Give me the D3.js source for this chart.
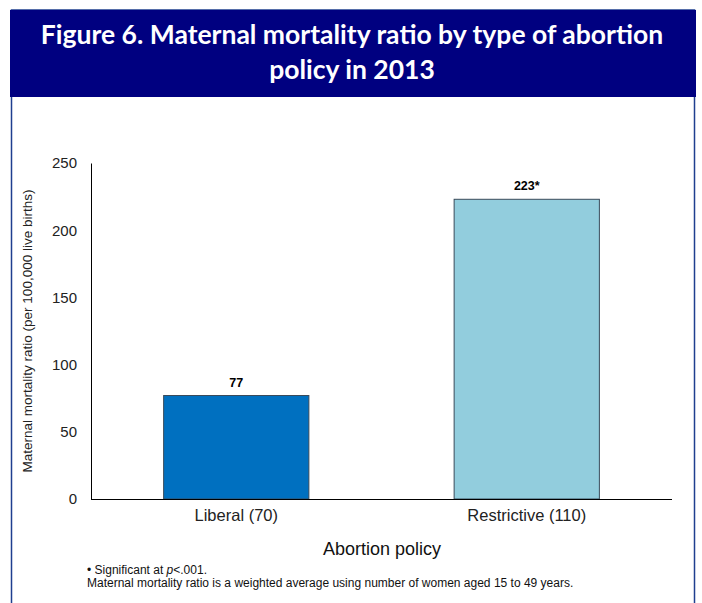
<!DOCTYPE html>
<html><head><meta charset="utf-8">
<script src="https://cdn.jsdelivr.net/npm/d3@7"></script>
<style>body{margin:0;background:#fff}</style>
</head><body>
<svg id="c" width="702" height="603"></svg>
<script>
const categories = ["Liberal (70)", "Restrictive (110)"];
const values = [77, 223];
const valueLabels = ["77", "223*"];
const yTicks = [0, 50, 100, 150, 200, 250];
const colors = ["#0070C0", "#92CDDD"];
const titleLines = ["Figure 6. Maternal mortality ratio by type of abortion", "policy in 2013"];

const svg = d3.select("#c");
// panel
svg.append("rect").attr("x",11.5).attr("y",10).attr("width",683).attr("height",600)
  .attr("fill","#fff").attr("stroke","#1F3F8F").attr("stroke-width",1.5);
svg.append("rect").attr("x",10).attr("y",10).attr("width",686).attr("height",87).attr("fill","#000080");
svg.append("text").attr("x",352).attr("y",44).attr("text-anchor","middle")
  .attr("font-family","Lato").attr("font-weight","bold").attr("font-size",26.5).attr("fill","#fff")
  .selectAll("tspan").data(titleLines).join("tspan").attr("x",352).attr("dy",(d,i)=>i?35:0).text(d=>d);

const x = d3.scaleBand().domain(categories).range([91,672]).paddingInner(0.5).paddingOuter(0.25);
const y = d3.scaleLinear().domain([0,250]).range([499,163]);

const g = svg.append("g");
g.selectAll("rect.bar").data(values).join("rect").attr("class","bar")
  .attr("x",(d,i)=>x(categories[i])).attr("width",x.bandwidth())
  .attr("y",d=>y(d)).attr("height",d=>y(0)-y(d))
  .attr("fill",(d,i)=>colors[i]).attr("stroke","#3A4A5A").attr("stroke-width",1);
g.selectAll("text.vl").data(values).join("text").attr("class","vl")
  .attr("x",(d,i)=>x(categories[i])+x.bandwidth()/2).attr("y",d=>y(d)-9)
  .attr("text-anchor","middle").attr("font-family","Liberation Sans, Arial").attr("font-weight","bold")
  .attr("font-size",12.5).attr("fill","#000").text((d,i)=>valueLabels[i]);

const ya = svg.append("g").attr("transform","translate(91,0)")
  .call(d3.axisLeft(y).tickValues(yTicks).tickSize(0).tickPadding(14));
ya.select(".domain").attr("stroke","#000");
ya.selectAll("text").attr("font-family","Liberation Sans, Arial").attr("font-size",15).attr("fill","#222");

const xa = svg.append("g").attr("transform","translate(0,499)")
  .call(d3.axisBottom(x).tickSize(0).tickPadding(10));
xa.select(".domain").attr("stroke","#000").attr("d","M91,0.5H672");
xa.selectAll("text").attr("font-family","Liberation Sans, Arial").attr("font-size",16.5).attr("fill","#222");

svg.append("text").attr("transform","translate(32,331) rotate(-90)").attr("text-anchor","middle")
  .attr("font-family","Liberation Sans, Arial").attr("font-size",13.5).attr("fill","#222")
  .text("Maternal mortality ratio (per 100,000 live births)");
svg.append("text").attr("x",382).attr("y",555).attr("text-anchor","middle")
  .attr("font-family","Liberation Sans, Arial").attr("font-size",18).attr("fill","#111")
  .text("Abortion policy");
const fn = svg.append("text").attr("font-family","Liberation Sans, Arial").attr("font-size",12).attr("fill","#111");
const l1 = fn.append("tspan").attr("x",87).attr("y",574);
l1.append("tspan").text("•  Significant at ");
l1.append("tspan").attr("font-style","italic").text("p");
l1.append("tspan").text("<.001.");
fn.append("tspan").attr("x",87).attr("y",587).text("Maternal mortality ratio is a weighted average using number of women aged 15 to 49 years.");
</script>
</body></html>
